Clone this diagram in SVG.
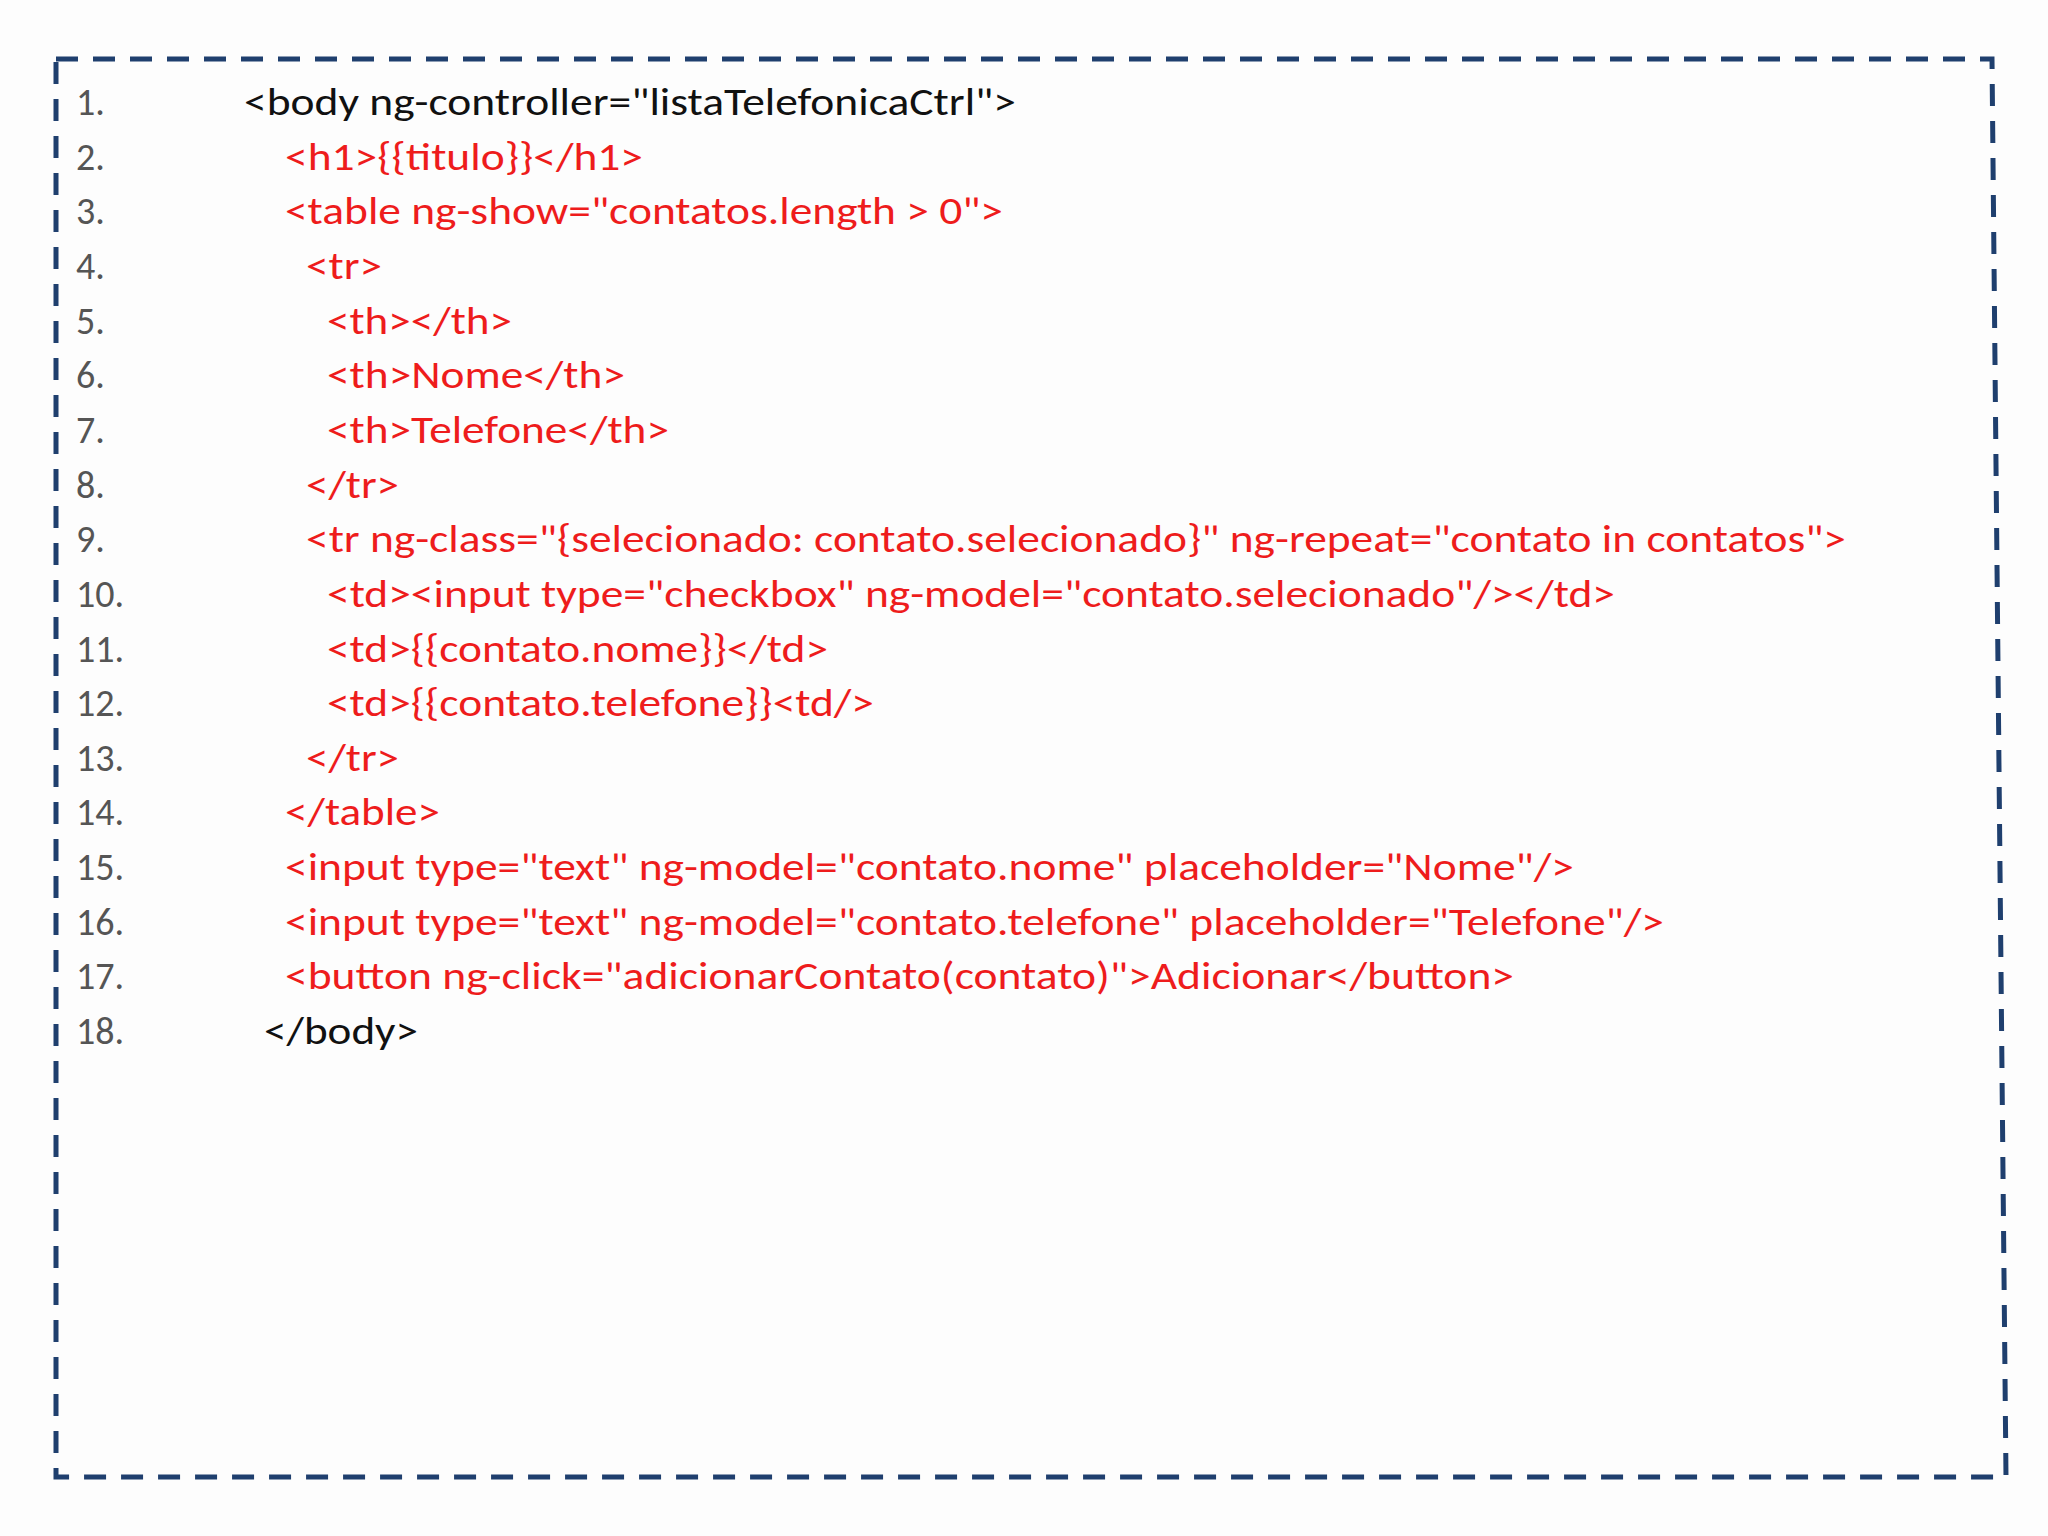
<svg xmlns="http://www.w3.org/2000/svg" width="2048" height="1536" viewBox="0 0 2048 1536">
<style>
text{font-family:Carlito,"Liberation Sans",sans-serif;font-size:38px}
.n{fill:#555}
.k{fill:#111}
.r{fill:#ee1c1c}
</style>
<rect width="2048" height="1536" fill="#fdfdfd"/>
<g id="frame"><path d="M56,59 L1992,59 L2006,1477 L56,1477 Z" fill="none" stroke="#1f3f6e" stroke-width="5" stroke-dasharray="22,15"/></g>
<g id="code">
<text class="n" x="76" y="115">1.</text><text class="k" x="244" y="115" textLength="772" lengthAdjust="spacingAndGlyphs">&lt;body ng-controller="listaTelefonicaCtrl"&gt;</text>
<text class="n" x="76" y="170">2.</text><text class="r" x="285" y="170" textLength="358" lengthAdjust="spacingAndGlyphs">&lt;h1&gt;{{titulo}}&lt;/h1&gt;</text>
<text class="n" x="76" y="224">3.</text><text class="r" x="285" y="224" textLength="718" lengthAdjust="spacingAndGlyphs">&lt;table ng-show="contatos.length &gt; 0"&gt;</text>
<text class="n" x="76" y="279">4.</text><text class="r" x="306" y="279" textLength="76" lengthAdjust="spacingAndGlyphs">&lt;tr&gt;</text>
<text class="n" x="76" y="334">5.</text><text class="r" x="327" y="334" textLength="185" lengthAdjust="spacingAndGlyphs">&lt;th&gt;&lt;/th&gt;</text>
<text class="n" x="76" y="388">6.</text><text class="r" x="327" y="388" textLength="298" lengthAdjust="spacingAndGlyphs">&lt;th&gt;Nome&lt;/th&gt;</text>
<text class="n" x="76" y="443">7.</text><text class="r" x="327" y="443" textLength="342" lengthAdjust="spacingAndGlyphs">&lt;th&gt;Telefone&lt;/th&gt;</text>
<text class="n" x="76" y="498">8.</text><text class="r" x="306" y="498" textLength="93" lengthAdjust="spacingAndGlyphs">&lt;/tr&gt;</text>
<text class="n" x="76" y="552">9.</text><text class="r" x="306" y="552" textLength="1540" lengthAdjust="spacingAndGlyphs">&lt;tr ng-class="{selecionado: contato.selecionado}" ng-repeat="contato in contatos"&gt;</text>
<text class="n" x="76" y="607">10.</text><text class="r" x="327" y="607" textLength="1288" lengthAdjust="spacingAndGlyphs">&lt;td&gt;&lt;input type="checkbox" ng-model="contato.selecionado"/&gt;&lt;/td&gt;</text>
<text class="n" x="76" y="662">11.</text><text class="r" x="327" y="662" textLength="501" lengthAdjust="spacingAndGlyphs">&lt;td&gt;{{contato.nome}}&lt;/td&gt;</text>
<text class="n" x="76" y="716">12.</text><text class="r" x="327" y="716" textLength="547" lengthAdjust="spacingAndGlyphs">&lt;td&gt;{{contato.telefone}}&lt;td/&gt;</text>
<text class="n" x="76" y="771">13.</text><text class="r" x="306" y="771" textLength="93" lengthAdjust="spacingAndGlyphs">&lt;/tr&gt;</text>
<text class="n" x="76" y="825">14.</text><text class="r" x="285" y="825" textLength="155" lengthAdjust="spacingAndGlyphs">&lt;/table&gt;</text>
<text class="n" x="76" y="880">15.</text><text class="r" x="285" y="880" textLength="1289" lengthAdjust="spacingAndGlyphs">&lt;input type="text" ng-model="contato.nome" placeholder="Nome"/&gt;</text>
<text class="n" x="76" y="935">16.</text><text class="r" x="285" y="935" textLength="1379" lengthAdjust="spacingAndGlyphs">&lt;input type="text" ng-model="contato.telefone" placeholder="Telefone"/&gt;</text>
<text class="n" x="76" y="989">17.</text><text class="r" x="285" y="989" textLength="1229" lengthAdjust="spacingAndGlyphs">&lt;button ng-click="adicionarContato(contato)"&gt;Adicionar&lt;/button&gt;</text>
<text class="n" x="76" y="1044">18.</text><text class="k" x="264" y="1044" textLength="154" lengthAdjust="spacingAndGlyphs">&lt;/body&gt;</text>
</g>
</svg>
